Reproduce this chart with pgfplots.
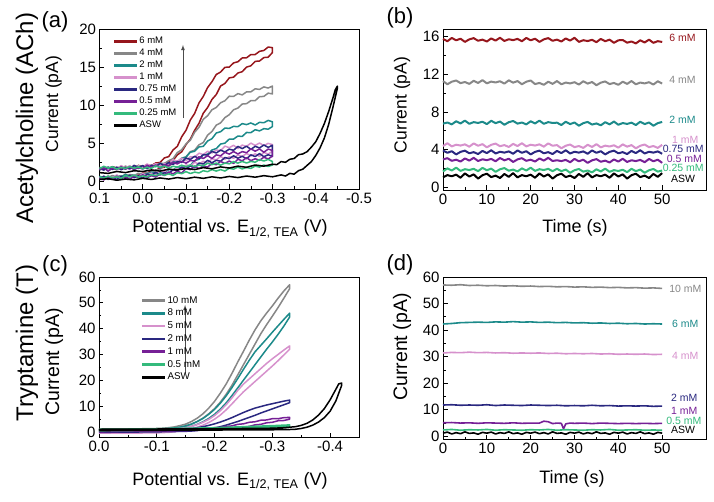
\documentclass[border=0pt]{standalone}
\usepackage{pgfplots}
\pgfplotsset{compat=1.18}
\usepackage{pgfplotstable}
\usepackage{fontspec}
\setmainfont{Liberation Sans}
\definecolor{cRed}{RGB}{150,22,28}
\definecolor{cGray}{RGB}{135,135,135}
\definecolor{cTeal}{RGB}{28,138,138}
\definecolor{cPink}{RGB}{214,145,204}
\definecolor{cNavy}{RGB}{42,40,128}
\definecolor{cPurple}{RGB}{118,32,150}
\definecolor{cGreen}{RGB}{52,186,124}

\pgfplotstableread{
E red gray teal pink navy purple green
0.10 0.55 0.30 0.68 0.58 0.32 0.43 0.60
0.09 0.35 0.64 0.42 0.22 0.69 0.20 0.44
0.08 0.55 0.50 0.60 0.72 0.26 0.59 0.69
0.07 0.35 0.78 0.47 0.48 0.49 0.34 0.46
0.06 0.72 0.53 0.76 0.85 0.26 0.70 0.63
0.05 0.60 0.72 0.62 0.42 0.65 0.35 0.40
0.04 0.88 0.60 0.89 0.67 0.42 0.60 0.74
0.03 0.68 0.90 0.68 0.46 0.80 0.24 0.59
0.02 0.87 0.77 0.87 0.87 0.47 0.74 0.84
0.01 0.80 1.07 0.66 0.64 0.74 0.50 0.56
0.00 1.10 0.90 1.02 1.02 0.40 0.87 0.72
-0.01 1.07 1.15 0.93 0.75 0.96 0.48 0.59
-0.02 1.45 1.05 1.24 1.08 0.78 0.75 0.88
-0.03 1.40 1.52 1.02 0.80 1.21 0.56 0.74
-0.04 1.80 1.55 1.24 1.38 0.84 0.99 1.01
-0.05 1.85 2.03 1.15 1.22 1.13 0.78 0.80
-0.06 2.52 1.98 1.54 1.71 1.02 1.24 0.99
-0.07 2.75 2.37 1.50 1.40 1.53 0.99 0.78
-0.08 3.48 2.45 1.87 1.75 1.40 1.34 1.14
-0.09 3.88 3.05 1.76 1.64 1.88 1.08 1.01
-0.10 4.82 3.22 2.05 2.15 1.65 1.68 1.28
-0.11 5.55 3.90 2.10 2.02 2.02 1.54 1.03
-0.12 6.70 4.10 2.72 2.50 1.78 2.01 1.22
-0.13 7.62 4.80 2.90 2.27 2.40 1.68 1.10
-0.14 8.95 5.10 3.48 2.64 2.28 2.01 1.40
-0.15 9.70 6.07 3.58 2.40 2.77 1.88 1.27
-0.16 10.75 6.55 4.12 2.98 2.44 2.35 1.55
-0.17 11.40 7.38 4.30 2.82 2.77 2.18 1.35
-0.18 12.52 7.68 4.90 3.27 2.64 2.62 1.55
-0.19 12.85 8.37 5.02 2.92 3.13 2.35 1.35
-0.20 13.58 8.75 5.55 3.23 2.98 2.68 1.72
-0.21 13.68 9.40 5.55 3.04 3.36 2.36 1.60
-0.22 14.22 9.62 5.95 3.47 3.03 2.90 1.88
-0.23 14.40 10.15 5.90 3.26 3.30 2.70 1.63
-0.24 15.00 10.20 6.42 3.66 2.96 3.11 1.82
-0.25 15.17 10.60 6.40 3.35 3.48 2.72 1.70
-0.26 15.75 10.60 6.78 3.62 3.26 2.97 2.00
-0.27 15.80 11.12 6.63 3.28 3.65 2.76 1.87
-0.28 16.25 11.15 6.92 3.80 3.24 3.17 2.15
-0.29 16.30 11.58 6.85 3.58 3.49 2.94 1.95
-0.30 16.92 11.48 7.20 3.97 3.28 3.32 2.15
-0.30 17.55 12.52 7.82 4.82 4.75 4.05 2.60
-0.29 17.63 12.25 8.00 4.99 4.46 4.24 2.88
-0.28 17.18 12.40 7.70 4.70 4.78 3.82 2.67
-0.27 17.07 12.07 7.75 5.03 4.39 4.26 2.86
-0.26 16.65 12.15 7.40 4.72 4.60 3.96 2.52
-0.25 16.65 11.75 7.67 5.02 4.20 4.27 2.62
-0.24 16.22 11.75 7.45 4.59 4.62 3.76 2.41
-0.23 16.20 11.35 7.58 4.76 4.30 3.91 2.62
-0.22 15.70 11.52 7.18 4.32 4.59 3.60 2.40
-0.21 15.55 11.15 7.22 4.74 4.08 3.91 2.59
-0.20 15.00 11.18 6.95 4.42 4.23 3.58 2.30
-0.19 14.97 10.58 7.00 4.63 3.86 3.82 2.41
-0.18 14.35 10.32 6.52 4.04 4.11 3.35 2.12
-0.17 14.03 9.70 6.35 4.11 3.72 3.48 2.40
-0.16 13.08 9.40 5.60 3.72 3.94 3.00 2.19
-0.15 12.32 8.62 5.30 3.95 3.45 3.38 2.38
-0.14 11.15 8.15 4.60 3.52 3.52 3.00 2.04
-0.13 10.30 7.10 4.52 3.70 2.98 3.23 2.14
-0.12 8.92 6.45 3.95 3.17 3.30 2.66 1.93
-0.11 8.05 5.40 3.83 3.24 2.88 2.75 2.14
-0.10 6.70 4.92 3.18 2.70 3.07 2.38 1.92
-0.09 5.85 4.15 3.02 3.04 2.50 2.65 2.13
-0.08 4.60 3.78 2.55 2.64 2.59 2.28 1.86
-0.07 4.12 2.98 2.60 2.85 2.22 2.52 1.99
-0.06 3.25 2.72 2.27 2.26 2.47 2.05 1.72
-0.05 3.08 2.35 2.35 2.33 2.08 2.18 2.02
-0.04 2.48 2.40 2.04 2.02 2.36 1.74 1.83
-0.03 2.42 2.07 2.13 2.33 1.93 2.16 2.04
-0.02 2.05 2.15 1.82 2.00 2.10 1.84 1.72
-0.01 2.20 1.85 2.08 2.28 1.66 2.13 1.84
0.00 1.92 1.95 1.85 1.85 2.08 1.62 1.65
0.01 2.10 1.68 2.06 2.04 1.79 1.81 1.90
0.02 1.80 1.98 1.74 1.62 2.11 1.54 1.72
0.03 1.95 1.79 1.86 2.06 1.63 1.89 1.95
0.04 1.65 2.00 1.67 1.76 1.81 1.60 1.70
0.05 1.92 1.68 1.90 2.07 1.53 1.92 1.85
0.06 1.75 1.80 1.70 1.60 1.87 1.53 1.60
0.07 1.93 1.61 1.91 1.79 1.57 1.74 1.92
0.08 1.63 1.84 1.64 1.52 1.88 1.34 1.75
0.09 1.72 1.64 1.77 1.87 1.48 1.80 1.98
0.10 1.55 1.85 1.50 1.58 1.68 1.52 1.68
}\tabA

\pgfplotstableread{
t s6 s4 s2 s1 s075 s05 s025 asw
0 15.75 11.27 6.75 4.37 3.90 2.95 1.67 1.04
1 15.50 10.93 6.87 4.67 3.65 3.08 2.00 1.28
2 15.85 11.20 6.67 4.33 3.82 2.80 1.77 1.16
3 15.60 11.33 7.00 4.51 3.48 2.92 2.07 1.33
4 15.77 11.05 6.77 4.42 3.75 2.72 1.73 1.00
5 15.43 11.17 7.07 4.55 3.88 3.05 1.91 1.46
6 15.70 10.97 6.73 4.30 3.60 2.82 1.82 1.13
7 15.83 11.30 6.91 4.65 3.72 3.12 1.95 1.36
8 15.55 11.07 6.82 4.40 3.52 2.78 1.70 0.91
9 15.67 11.37 6.95 4.57 3.85 2.96 2.05 1.27
10 15.47 11.03 6.70 4.23 3.62 2.87 1.80 1.43
11 15.80 11.21 7.05 4.50 3.92 3.00 1.97 1.07
12 15.57 11.12 6.80 4.63 3.58 2.75 1.63 1.23
13 15.87 11.25 6.97 4.35 3.76 3.10 1.90 0.97
14 15.53 11.00 6.63 4.47 3.67 2.85 2.03 1.40
15 15.71 11.35 6.90 4.27 3.80 3.02 1.75 1.10
16 15.62 11.10 7.03 4.60 3.55 2.68 1.87 1.49
17 15.75 11.27 6.75 4.37 3.90 2.95 1.67 1.04
18 15.50 10.93 6.87 4.67 3.65 3.08 2.00 1.28
19 15.85 11.20 6.67 4.33 3.82 2.80 1.77 1.16
20 15.60 11.33 7.00 4.51 3.48 2.92 2.07 1.33
21 15.77 10.95 6.77 4.42 3.75 2.72 1.73 1.00
22 15.43 11.07 7.07 4.55 3.88 3.05 1.91 1.46
23 15.70 10.87 6.73 4.30 3.60 2.82 1.82 1.13
24 15.83 11.20 6.91 4.65 3.72 3.12 1.95 1.36
25 15.55 10.97 6.82 4.40 3.52 2.78 1.70 0.91
26 15.67 11.27 6.85 4.47 3.85 2.86 1.95 1.27
27 15.47 10.93 6.60 4.13 3.62 2.77 1.70 1.43
28 15.80 11.11 6.95 4.40 3.92 2.90 1.87 1.07
29 15.57 11.02 6.70 4.53 3.58 2.65 1.53 1.23
30 15.87 11.15 6.87 4.25 3.76 3.00 1.80 0.97
31 15.43 10.90 6.53 4.37 3.67 2.75 1.93 1.40
32 15.61 11.25 6.80 4.17 3.80 2.92 1.65 1.10
33 15.52 11.00 6.93 4.50 3.55 2.58 1.77 1.49
34 15.65 11.17 6.65 4.27 3.90 2.85 1.57 1.04
35 15.40 10.83 6.77 4.57 3.65 2.98 1.90 1.28
36 15.75 11.10 6.57 4.23 3.82 2.70 1.67 1.16
37 15.50 11.23 6.90 4.41 3.48 2.82 1.97 1.33
38 15.67 10.95 6.67 4.32 3.75 2.62 1.63 1.00
39 15.33 11.07 6.97 4.45 3.88 2.95 1.81 1.46
40 15.60 10.87 6.63 4.20 3.60 2.72 1.72 1.13
41 15.63 11.20 6.81 4.55 3.72 3.02 1.85 1.36
42 15.35 10.97 6.72 4.30 3.52 2.68 1.60 0.91
43 15.47 11.27 6.85 4.47 3.85 2.86 1.95 1.27
44 15.27 10.93 6.60 4.13 3.62 2.77 1.70 1.43
45 15.60 11.11 6.95 4.40 3.92 2.90 1.87 1.07
46 15.37 11.02 6.70 4.53 3.58 2.65 1.53 1.23
47 15.67 11.15 6.87 4.25 3.76 3.00 1.80 0.97
48 15.33 10.90 6.53 4.37 3.67 2.75 1.93 1.40
49 15.51 11.25 6.80 4.17 3.80 2.92 1.65 1.10
50 15.42 11.00 6.93 4.50 3.55 2.58 1.77 1.49
}\tabB

\tikzset{sidelab/.style={font=\fontsize{10.5}{10.5}\selectfont, anchor=west, inner sep=0pt}}

\pgfplotsset{
  panel/.style={
    scale only axis, anchor=south west, clip=false,
    axis line style={line width=0.9pt},
    tick align=inside, xtick pos=bottom, ytick pos=left,
    major tick length=4.5pt, minor tick length=2.5pt,
    every tick/.style={black, line width=0.7pt},
    tick label style={font=\fontsize{15}{15}\selectfont},
    /pgf/number format/assume math mode=true,
    every axis plot/.append style={line join=round},
    legend image code/.code={\draw[#1, line width=2.6pt] (0pt,0pt) -- (23pt,0pt);},
    legend cell align=left,
  },
}

\begin{document}
\begin{tikzpicture}
\path[use as bounding box] (0pt,0pt) rectangle (714pt,501pt);

% ---------------- (a)
\begin{axis}[panel, at={(99.5pt,312pt)}, width=259.5pt, height=160pt,
  x dir=reverse, xmin=-0.5, xmax=0.1, ymin=-1, ymax=20,
  xtick={-0.5,-0.4,-0.3,-0.2,-0.1,0,0.1}, minor x tick num=1,
  ytick={0,5,10,15,20}, minor y tick num=1,
  xticklabel style={/pgf/number format/.cd, fixed, fixed zerofill, precision=1},
  legend style={draw=none, fill=none, inner sep=0pt, outer sep=0pt,
    at={(rel axis cs:0.052,0.955)}, anchor=north west,
    font=\fontsize{9.5}{11}\selectfont,
    nodes={inner sep=0.8pt, text height=7pt, text depth=2pt},
    row sep=1.4pt},
]
\addplot[cRed, line width=1.5pt] table[x=E,y=red]{\tabA};
\addlegendentry{6 mM}
\addplot[cGray, line width=1.5pt] table[x=E,y=gray]{\tabA};
\addlegendentry{4 mM}
\addplot[cTeal, line width=1.5pt] table[x=E,y=teal]{\tabA};
\addlegendentry{2 mM}
\addplot[cPink, line width=1.5pt] table[x=E,y=pink]{\tabA};
\addlegendentry{1 mM}
\addplot[cNavy, line width=1.5pt] table[x=E,y=navy]{\tabA};
\addlegendentry{0.75 mM}
\addplot[cPurple, line width=1.5pt] table[x=E,y=purple]{\tabA};
\addlegendentry{0.5 mM}
\addplot[cGreen, line width=1.5pt] table[x=E,y=green]{\tabA};
\addlegendentry{0.25 mM}
\addplot[black, line width=1.5pt] coordinates {
(0.10,0.25) (0.08,0.35) (0.06,0.15) (0.04,0.30) (0.02,0.20) (0.00,0.40) (-0.02,0.25) (-0.04,0.45) (-0.06,0.30) (-0.08,0.50) (-0.10,0.35) (-0.12,0.55) (-0.14,0.40) (-0.16,0.60) (-0.18,0.45) (-0.20,0.65) (-0.22,0.50) (-0.24,0.70) (-0.26,0.55) (-0.28,0.75) (-0.30,0.60) (-0.32,0.85) (-0.33,0.70) (-0.34,1.05) (-0.35,0.95) (-0.36,1.40) (-0.37,1.60) (-0.38,2.10) (-0.39,2.60) (-0.40,3.40) (-0.41,4.40) (-0.42,5.70) (-0.43,7.50) (-0.44,9.80) (-0.45,12.20)
(-0.45,12.50) (-0.445,12.0) (-0.44,11.0) (-0.43,9.2) (-0.42,7.6) (-0.41,6.3) (-0.40,5.2) (-0.39,4.5) (-0.38,3.9) (-0.37,3.6) (-0.36,3.5) (-0.35,3.0) (-0.34,2.9) (-0.33,2.5) (-0.32,2.6) (-0.31,2.2) (-0.30,2.25) (-0.28,2.0) (-0.26,2.15) (-0.24,1.85) (-0.22,2.0) (-0.20,1.75) (-0.18,1.9) (-0.16,1.65) (-0.14,1.8) (-0.12,1.55) (-0.10,1.7) (-0.08,1.5) (-0.06,1.6) (-0.04,1.35) (-0.02,1.5) (0.00,1.3) (0.02,1.4) (0.04,1.15) (0.06,1.3) (0.08,1.05) (0.10,1.15)};
\addlegendentry{ASW}
\draw[-latex, line width=0.8pt, black!70] (axis cs:-0.093,8.3) -- (axis cs:-0.093,17.9);
\end{axis}

% ---------------- (b)
\begin{axis}[panel, at={(443pt,311pt)}, width=263pt, height=161pt,
  xmin=0, xmax=60, ymin=-0.3, ymax=16.8,
  xtick={0,10,20,30,40,50}, minor xtick={5,15,25,35,45},
  ytick={0,4,8,12,16}, minor ytick={2,6,10,14},
]
\addplot[cRed, line width=2pt] table[x=t,y=s6]{\tabB};
\addplot[cGray, line width=2pt] table[x=t,y=s4]{\tabB};
\addplot[cTeal, line width=2pt] table[x=t,y=s2]{\tabB};
\addplot[cPink, line width=2pt] table[x=t,y=s1]{\tabB};
\addplot[cNavy, line width=2pt] table[x=t,y=s075]{\tabB};
\addplot[cPurple, line width=2pt] table[x=t,y=s05]{\tabB};
\addplot[cGreen, line width=2pt] table[x=t,y=s025]{\tabB};
\addplot[black, line width=2pt] table[x=t,y=asw]{\tabB};
\node[sidelab, text=cRed] at (axis cs:51.6,15.9) {6 mM};
\node[sidelab, text=cGray] at (axis cs:51.6,11.4) {4 mM};
\node[sidelab, text=cTeal] at (axis cs:51.6,7.15) {2 mM};
\node[sidelab, text=cPink] at (axis cs:52.2,5.05) {1 mM};
\node[sidelab, text=cNavy] at (axis cs:50.1,4.05) {0.75 mM};
\node[sidelab, text=cPurple] at (axis cs:51.0,3.05) {0.5 mM};
\node[sidelab, text=cGreen] at (axis cs:50.1,2.0) {0.25 mM};
\node[sidelab, text=black] at (axis cs:52.0,0.92) {ASW};
\end{axis}

% ---------------- (c)
\begin{axis}[panel, at={(99pt,64pt)}, width=260pt, height=160pt,
  x dir=reverse, xmin=-0.45, xmax=0, ymin=-2, ymax=60,
  xtick={-0.4,-0.3,-0.2,-0.1,0}, minor xtick={-0.45,-0.35,-0.25,-0.15,-0.05},
  ytick={0,10,20,30,40,50,60}, minor y tick num=1,
  xticklabel style={/pgf/number format/.cd, fixed, fixed zerofill, precision=1},
  legend style={draw=none, fill=none, inner sep=0pt, outer sep=0pt,
    at={(rel axis cs:0.162,0.886)}, anchor=north west,
    font=\fontsize{9.8}{11}\selectfont,
    nodes={inner sep=0.8pt, text height=7pt, text depth=2pt},
    row sep=2.2pt},
]
\addplot[cGray, line width=1.5pt] coordinates {
(0,0.3) (-0.05,0.35) (-0.1,0.5) (-0.11,0.7) (-0.12,0.9) (-0.13,1.2) (-0.14,1.6) (-0.15,2.2) (-0.16,3.0) (-0.17,4.0) (-0.18,5.3) (-0.19,7.0) (-0.2,9.0) (-0.21,11.5) (-0.22,14.5) (-0.23,18) (-0.24,22) (-0.25,26) (-0.26,30) (-0.27,34) (-0.28,38) (-0.29,41.5) (-0.3,44.8) (-0.31,48.2) (-0.32,51.8) (-0.33,55.5)
(-0.33,57.0) (-0.32,54.6) (-0.31,51.8) (-0.3,48.8) (-0.29,46) (-0.28,43) (-0.27,39.5) (-0.26,35.5) (-0.25,31.2) (-0.24,27) (-0.23,22.6) (-0.22,18.5) (-0.21,15) (-0.2,11.8) (-0.19,9.2) (-0.18,7.0) (-0.17,5.3) (-0.16,4.0) (-0.15,3.0) (-0.14,2.4) (-0.13,1.9) (-0.12,1.6) (-0.11,1.4) (-0.1,1.3) (-0.05,1.1) (0,1.0)};
\addlegendentry{10 mM}
\addplot[cTeal, line width=1.5pt] coordinates {
(0,-0.2) (-0.05,0) (-0.1,0.2) (-0.12,0.5) (-0.13,0.7) (-0.14,1.0) (-0.15,1.5) (-0.16,2.1) (-0.17,2.9) (-0.18,3.9) (-0.19,5.2) (-0.2,6.8) (-0.21,8.8) (-0.22,11.2) (-0.23,14) (-0.24,17) (-0.25,20) (-0.26,23) (-0.27,26) (-0.28,29) (-0.29,32) (-0.3,34.8) (-0.31,37.8) (-0.32,41) (-0.33,44.5)
(-0.33,46) (-0.32,43.6) (-0.31,41.1) (-0.3,38.6) (-0.29,36) (-0.28,33.5) (-0.27,31) (-0.26,27.7) (-0.25,24.2) (-0.24,20.6) (-0.23,17.1) (-0.22,13.9) (-0.21,11.1) (-0.2,8.7) (-0.19,6.8) (-0.18,5.2) (-0.17,4.0) (-0.16,3.0) (-0.15,2.3) (-0.14,1.8) (-0.13,1.5) (-0.12,1.3) (-0.1,1.1) (-0.05,0.9) (0,0.8)};
\addlegendentry{8 mM}
\addplot[cPink, line width=1.5pt] coordinates {
(0,-0.5) (-0.05,-0.5) (-0.1,-0.4) (-0.12,-0.2) (-0.13,0) (-0.14,0.3) (-0.15,0.7) (-0.16,1.2) (-0.17,1.8) (-0.18,2.6) (-0.19,3.6) (-0.2,4.9) (-0.21,6.5) (-0.22,8.5) (-0.23,10.8) (-0.24,13.2) (-0.25,15.5) (-0.26,17.5) (-0.27,19.5) (-0.28,21.5) (-0.29,23.5) (-0.3,25.5) (-0.31,27.6) (-0.32,29.8) (-0.33,32)
(-0.33,33.3) (-0.32,31.7) (-0.31,30) (-0.3,28.3) (-0.29,26.5) (-0.28,24.5) (-0.27,22.5) (-0.26,20.5) (-0.25,18.5) (-0.24,16) (-0.23,13.1) (-0.22,10.5) (-0.21,8.2) (-0.2,6.3) (-0.19,4.8) (-0.18,3.7) (-0.17,2.8) (-0.16,2.1) (-0.15,1.6) (-0.14,1.3) (-0.13,1.1) (-0.12,0.9) (-0.1,0.8) (-0.05,0.7) (0,0.6)};
\addlegendentry{5 mM}
\addplot[cNavy, line width=1.5pt] coordinates {
(0,-0.2) (-0.05,-0.1) (-0.1,0) (-0.15,0.2) (-0.16,0.3) (-0.17,0.5) (-0.18,0.8) (-0.19,1.1) (-0.2,1.5) (-0.21,2.0) (-0.22,2.6) (-0.23,3.3) (-0.24,4.0) (-0.25,4.8) (-0.26,5.6) (-0.27,6.4) (-0.28,7.3) (-0.29,8.1) (-0.3,8.9) (-0.31,9.7) (-0.32,10.5) (-0.33,11.3)
(-0.33,12.3) (-0.32,11.9) (-0.31,11.4) (-0.3,10.9) (-0.29,10.4) (-0.28,9.8) (-0.27,9.2) (-0.26,8.4) (-0.25,7.5) (-0.24,6.5) (-0.23,5.5) (-0.22,4.6) (-0.21,3.8) (-0.2,3.1) (-0.19,2.5) (-0.18,2.0) (-0.17,1.6) (-0.16,1.3) (-0.15,1.1) (-0.1,0.9) (-0.05,0.8) (0,0.7)};
\addlegendentry{2 mM}
\addplot[cPurple, line width=1.5pt] coordinates {
(0,0) (-0.05,0.2) (-0.1,0.3) (-0.15,0.5) (-0.17,0.6) (-0.19,0.9) (-0.2,0.8) (-0.21,1.1) (-0.22,1.0) (-0.23,1.4) (-0.24,1.4) (-0.25,1.9) (-0.26,2.1) (-0.27,2.7) (-0.28,2.9) (-0.29,3.5) (-0.3,3.7) (-0.31,4.3) (-0.32,4.4) (-0.33,4.9)
(-0.33,5.6) (-0.32,5.5) (-0.31,5.1) (-0.3,5.1) (-0.29,4.6) (-0.28,4.5) (-0.27,3.9) (-0.26,3.7) (-0.25,3.1) (-0.24,2.9) (-0.23,2.3) (-0.22,2.1) (-0.21,1.6) (-0.2,1.6) (-0.18,1.2) (-0.15,1.1) (-0.1,0.8) (-0.05,0.7) (0,0.6)};
\addlegendentry{1 mM}
\addplot[cGreen, line width=1.5pt] coordinates {
(0,0.4) (-0.1,0.6) (-0.2,1.0) (-0.25,1.3) (-0.3,1.8) (-0.33,2.2)
(-0.33,2.7) (-0.3,2.4) (-0.25,2.0) (-0.2,1.6) (-0.1,1.2) (0,1.0)};
\addlegendentry{0.5 mM}
\addplot[black, line width=1.5pt] coordinates {
(0,0.5) (-0.1,0.6) (-0.2,0.7) (-0.3,0.8) (-0.33,0.9) (-0.34,1.0) (-0.35,1.3) (-0.36,1.8) (-0.37,2.6) (-0.38,3.8) (-0.39,5.5) (-0.4,8.0) (-0.41,12.0) (-0.42,18.0)
(-0.42,18.9) (-0.415,18.6) (-0.41,16.5) (-0.4,12.4) (-0.39,9.0) (-0.38,6.5) (-0.37,4.6) (-0.36,3.3) (-0.35,2.5) (-0.34,2.0) (-0.32,1.6) (-0.3,1.4) (-0.2,1.2) (-0.1,1.1) (0,1.0)};
\addlegendentry{ASW}
\draw[-latex, line width=0.8pt, black!70] (axis cs:-0.149,22.8) -- (axis cs:-0.149,49.2);
\end{axis}

% ---------------- (d)
\begin{axis}[panel, at={(443pt,62pt)}, width=263pt, height=162pt,
  xmin=0, xmax=60, ymin=-1, ymax=60,
  xtick={0,10,20,30,40,50}, minor xtick={5,15,25,35,45},
  ytick={0,10,20,30,40,50,60}, minor y tick num=1,
]
\addplot[cGray, line width=1.6pt] coordinates {(0,57.0) (2,56.9) (4,57.1) (6,56.8) (8,56.9) (10,56.7) (12,56.8) (14,56.6) (16,56.7) (18,56.5) (20,56.6) (22,56.4) (24,56.5) (26,56.3) (28,56.4) (30,56.2) (32,56.3) (34,56.1) (36,56.2) (38,56.0) (40,56.1) (42,55.9) (44,56.0) (46,55.8) (48,55.9) (50,55.7)};
\addplot[cTeal, line width=1.6pt] coordinates {(0,42.3) (2,42.5) (4,42.8) (6,42.9) (8,43.0) (10,42.9) (12,43.1) (14,43.0) (16,43.2) (18,43.0) (20,43.1) (22,42.9) (24,43.0) (26,42.8) (28,42.9) (30,42.7) (32,42.8) (34,42.6) (36,42.7) (38,42.5) (40,42.6) (42,42.4) (44,42.5) (46,42.3) (48,42.4) (50,42.3)};
\addplot[cPink, line width=1.6pt] coordinates {(0,31.4) (2,31.6) (4,31.5) (6,31.7) (8,31.5) (10,31.6) (12,31.4) (14,31.5) (16,31.3) (18,31.4) (20,31.3) (22,31.4) (24,31.2) (26,31.3) (28,31.1) (30,31.2) (32,31.1) (34,31.2) (36,31.0) (38,31.1) (40,30.9) (42,31.0) (44,30.9) (46,31.0) (48,30.8) (50,30.9)};
\addplot[cNavy, line width=1.6pt] coordinates {(0,11.8) (2,11.9) (4,11.7) (6,11.8) (8,11.7) (10,11.9) (12,11.6) (14,11.8) (16,11.7) (18,11.6) (20,11.8) (22,11.7) (24,11.6) (26,11.7) (28,11.5) (30,11.6) (32,11.5) (34,11.7) (36,11.5) (38,11.6) (40,11.4) (42,11.5) (44,11.4) (46,11.5) (48,11.3) (50,11.4)};
\addplot[cPurple, line width=1.6pt] coordinates {(0,5.1) (2,5.2) (4,5.0) (6,5.1) (8,4.9) (10,5.1) (12,5.0) (14,4.9) (16,5.1) (18,4.9) (20,5.0) (22,5.0) (23,5.7) (24,5.5) (25,4.8) (26,5.0) (27,4.9) (27.5,2.8) (28,4.7) (29,5.0) (30,4.9) (32,5.0) (34,4.8) (36,5.0) (38,4.9) (40,4.8) (42,4.9) (44,4.8) (46,4.9) (48,4.8) (50,4.9)};
\addplot[cGreen, line width=1.6pt] coordinates {(0,2.4) (2,2.6) (4,2.3) (6,2.5) (8,2.4) (10,2.6) (12,2.3) (14,2.5) (16,2.4) (18,2.3) (20,2.5) (22,2.4) (24,2.6) (26,2.3) (28,2.5) (30,2.4) (32,2.3) (34,2.5) (36,2.4) (38,2.6) (40,2.3) (42,2.4) (44,2.5) (46,2.3) (48,2.4) (50,2.3)};
\addplot[black, line width=1.6pt] coordinates {(0,1.2) (1,1.6) (2,0.9) (3,1.4) (4,1.0) (5,1.7) (6,1.1) (7,1.3) (8,0.8) (9,1.5) (10,1.2) (11,1.6) (12,0.9) (13,1.4) (14,1.1) (15,1.7) (16,1.0) (17,1.3) (18,0.8) (19,1.5) (20,1.2) (21,1.6) (22,1.0) (23,1.4) (24,0.9) (25,1.7) (26,1.1) (27,1.3) (28,0.8) (29,1.5) (30,1.2) (31,1.6) (32,0.9) (33,1.4) (34,1.0) (35,1.7) (36,1.1) (37,1.3) (38,0.8) (39,1.5) (40,1.2) (41,1.6) (42,0.9) (43,1.4) (44,1.1) (45,1.7) (46,1.0) (47,1.3) (48,0.8) (49,1.5) (50,1.2)};
\node[sidelab, text=cGray] at (axis cs:51.6,55.6) {10 mM};
\node[sidelab, text=cTeal] at (axis cs:52.2,42.2) {6 mM};
\node[sidelab, text=cPink] at (axis cs:52.2,30.4) {4 mM};
\node[sidelab, text=cNavy] at (axis cs:52.0,14.6) {2 mM};
\node[sidelab, text=cPurple] at (axis cs:52.0,9.7) {1 mM};
\node[sidelab, text=cGreen] at (axis cs:50.9,5.9) {0.5 mM};
\node[sidelab, text=black] at (axis cs:52.0,2.4) {ASW};
\end{axis}

% ---------------- labels
\node[rotate=90, font=\fontsize{24}{24}\selectfont] at (27pt,383pt) {Acetylcholine (ACh)};
\node[rotate=90, font=\fontsize{24}{24}\selectfont] at (27pt,158pt) {Tryptamine (T)};
\node[font=\fontsize{22}{22}\selectfont] at (55pt,479pt) {(a)};
\node[font=\fontsize{22}{22}\selectfont] at (400pt,483pt) {(b)};
\node[font=\fontsize{22}{22}\selectfont] at (55pt,235pt) {(c)};
\node[font=\fontsize{22}{22}\selectfont] at (400pt,236pt) {(d)};
\node[rotate=90, font=\fontsize{17.5}{17.5}\selectfont] at (53.5pt,397pt) {Current (pA)};
\node[rotate=90, font=\fontsize{17.5}{17.5}\selectfont] at (402pt,396pt) {Current (pA)};
\node[rotate=90, font=\fontsize{19.5}{19.5}\selectfont] at (54pt,139pt) {Current (pA)};
\node[rotate=90, font=\fontsize{19.5}{19.5}\selectfont] at (402pt,154pt) {Current (pA)};
\node[anchor=base, font=\fontsize{18}{18}\selectfont] at (230pt,268pt) {Potential vs. E\textsubscript{1/2, TEA} (V)};
\node[anchor=base, font=\fontsize{18}{18}\selectfont] at (230pt,16pt) {Potential vs. E\textsubscript{1/2, TEA} (V)};
\node[anchor=base, font=\fontsize{18}{18}\selectfont] at (575pt,268pt) {Time (s)};
\node[anchor=base, font=\fontsize{18}{18}\selectfont] at (572pt,18pt) {Time (s)};
\end{tikzpicture}
\end{document}
